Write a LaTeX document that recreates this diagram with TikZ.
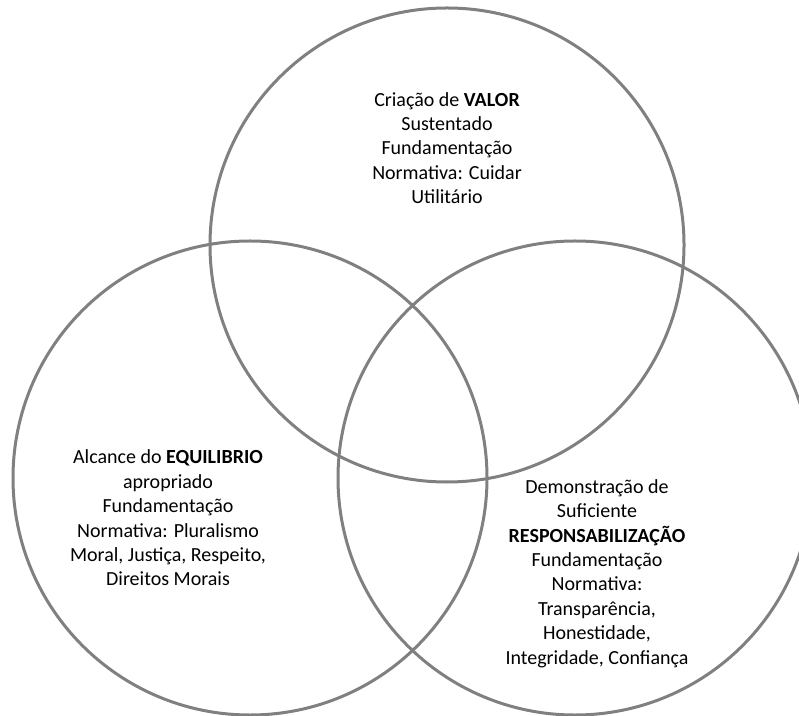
\documentclass[tikz,border=0pt]{standalone}
\usepackage{fontspec}
\setmainfont{Carlito}
\begin{document}
\begin{tikzpicture}[x=1pt,y=1pt,
  ring/.style={circle, draw=ringgray, line width=3pt, minimum size=474pt, inner sep=0pt},
  label/.style={align=center, text=black, font=\fontsize{20}{24.4}\selectfont, inner sep=0pt}]
\definecolor{ringgray}{RGB}{128,128,128}
\useasboundingbox (0,0) rectangle (799,715);
\clip (0,0) rectangle (799,715);
% the three overlapping circles
\node[ring] (valor) at (447,470) {};
\node[ring] (equilibrio) at (250,237) {};
\node[ring] (responsabilizacao) at (575,237) {};
% texts inside the circles
\node[label] (tvalor) at (447,567) {Criação de \textbf{VALOR}\\Sustentado\\Fundamentação\\Normativa: Cuidar\\Utilitário};
\node[label] (tequilibrio) at (168,197) {Alcance do \textbf{EQUILIBRIO}\\apropriado\\Fundamentação\\Normativa: Pluralismo\\Moral, Justiça, Respeito,\\Direitos Morais};
\node[label] (tresp) at (597,141.5) {Demonstração de\\Suficiente\\\textbf{RESPONSABILIZAÇÃO}\\Fundamentação\\Normativa:\\Transparência,\\Honestidade,\\Integridade, Confiança};
\end{tikzpicture}
\end{document}
